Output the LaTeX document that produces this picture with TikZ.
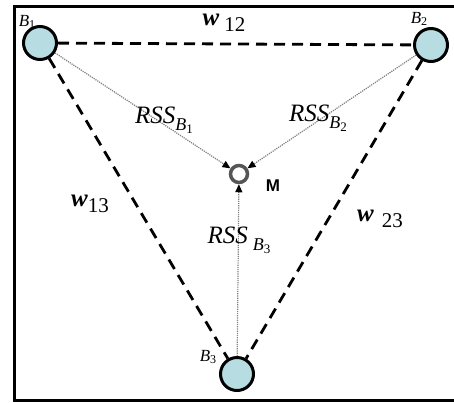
\documentclass[tikz,border=0pt]{standalone}
\usepackage{fontspec}
\setmainfont{Liberation Serif}
\newfontfamily\msans{Liberation Sans}
\usetikzlibrary{arrows.meta}
\definecolor{bsfill}{RGB}{183,221,226}
\definecolor{mring}{RGB}{85,85,85}
\newcommand{\lblB}[1]{\textit{B}\raisebox{-0.35ex}{\fontsize{12}{12}\selectfont #1}}
\newcommand{\lblRSS}[2]{\textit{RSS}\hspace{#2}\raisebox{-0.6ex}{\fontsize{18}{18}\selectfont\textit{B}\raisebox{-0.35ex}{\fontsize{13}{13}\selectfont #1}}}
\newcommand{\lblW}[2]{\textbf{\textit{w}}\hspace{#2}\raisebox{-0.5ex}{\fontsize{21}{21}\selectfont #1}}
\begin{document}
\begin{tikzpicture}[x=1pt,y=-1pt,
  station/.style={circle,draw=black,line width=3pt,fill=bsfill,minimum size=33pt,inner sep=0pt},
  mobile/.style={circle,draw=mring,line width=3.5pt,fill=white,minimum size=17pt,inner sep=0pt},
  link/.style={line width=2.8pt,dash pattern=on 11pt off 7pt},
  rss/.style={line width=1.2pt,draw=gray,dash pattern=on 1.2pt off 1pt,-{Triangle[length=8pt,width=7pt,color=black]}},
  txt/.style={inner sep=0pt,font=\fontsize{25}{25}\selectfont},
  small/.style={inner sep=0pt,font=\fontsize{17}{17}\selectfont}]
\useasboundingbox (0,0) rectangle (454,402);
\fill[white] (0,0) rectangle (454,402);
\draw[line width=3pt] (454,6.5) -- (14.5,6.5) -- (14.5,400.5) -- (454,400.5);
\node[station] (B1) at (40,43) {};
\node[station] (B2) at (431,45) {};
\node[station] (B3) at (237,374) {};
\node[mobile] (M) at (239,174) {};
\draw[link] (B1) -- (B2);
\draw[link] (B1) -- (B3);
\draw[link] (B2) -- (B3);
\draw[rss] (B1) -- (M);
\draw[rss] (B2) -- (M);
\draw[rss] (B3) -- (M);
\node[small] (lB1) at (27,22) {\lblB{1}};
\node[small] (lB2) at (419,19) {\lblB{2}};
\node[small] (lB3) at (208,357) {\lblB{3}};
\node[inner sep=0pt,font=\msans\bfseries\fontsize{17}{17}\selectfont] (lM) at (273,186) {M};
\node[txt] (r1) at (164,120) {\lblRSS{1}{0pt}};
\node[txt] (r2) at (318,118) {\lblRSS{2}{0pt}};
\node[txt] (r3) at (239,240) {\lblRSS{3}{5pt}};
\node[txt] (w12) at (224,23) {\lblW{12}{5pt}};
\node[txt] (w13) at (90,204) {\lblW{13}{0pt}};
\node[txt] (w23) at (380,219) {\lblW{23}{8pt}};
\end{tikzpicture}
\end{document}
